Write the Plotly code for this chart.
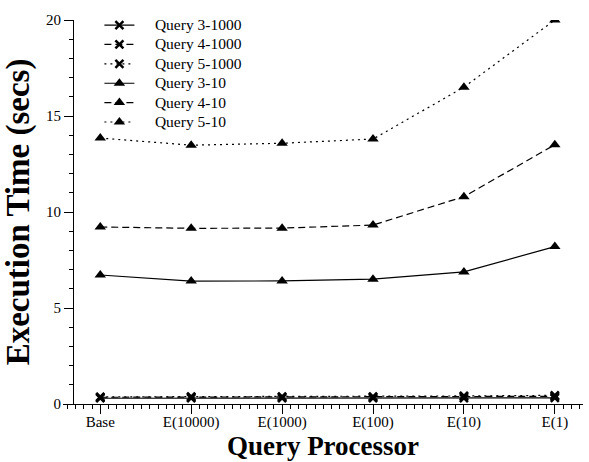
import plotly.graph_objects as go

categories = ["Base", "E(10000)", "E(1000)", "E(100)", "E(10)", "E(1)"]
q3_1000 = [0.30, 0.30, 0.30, 0.30, 0.30, 0.32]
q4_1000 = [0.35, 0.36, 0.36, 0.36, 0.38, 0.40]
q5_1000 = [0.37, 0.38, 0.38, 0.38, 0.42, 0.45]
q3_10 = [6.72, 6.40, 6.41, 6.50, 6.88, 8.20]
q4_10 = [9.22, 9.15, 9.16, 9.32, 10.80, 13.50]
q5_10 = [13.85, 13.48, 13.58, 13.80, 16.50, 20.0]
y_ticks = [0, 5, 10, 15, 20]

xs = list(range(len(categories)))
FONT = "Liberation Serif, Times New Roman, serif"

series = [
    ("Query 3-1000", q3_1000, "solid", "x-thin"),
    ("Query 4-1000", q4_1000, "7px,4px", "x-thin"),
    ("Query 5-1000", q5_1000, "2px,4px", "x-thin"),
    ("Query 3-10", q3_10, "solid", "triangle-up"),
    ("Query 4-10", q4_10, "7px,4px", "triangle-up"),
    ("Query 5-10", q5_10, "2px,4px", "triangle-up"),
]

fig = go.Figure()
for name, vals, dash, sym in series:
    if sym == "x-thin":
        marker = dict(symbol="x-thin", size=8, color="black",
                      line=dict(color="black", width=2.5))
    else:
        marker = dict(symbol="triangle-up", size=10, color="black",
                      line=dict(color="black", width=0))
    fig.add_trace(go.Scatter(
        x=xs, y=vals,
        name='<span style="font-size:15.5px">' + "\u00a0" * 4 + name + '</span>',
        mode="lines+markers",
        line=dict(color="black", width=1.2, dash=dash),
        marker=marker,
    ))

fig.update_layout(
    width=589, height=462,
    margin=dict(l=63, r=6, t=20, b=58),
    paper_bgcolor="white", plot_bgcolor="white",
    font=dict(family=FONT, color="black", size=15),
    showlegend=True,
    legend=dict(x=0.07, y=1.025, xanchor="left", yanchor="top",
                bgcolor="rgba(0,0,0,0)", font=dict(size=12.6, family=FONT),
                tracegroupgap=0),
    xaxis=dict(
        range=[-0.41, 5.31], tickmode="array", tickvals=xs, ticktext=categories,
        automargin=False,
        showgrid=False, zeroline=False, showline=True, linecolor="black", linewidth=1,
        ticks="outside", ticklen=9, tickcolor="black", tickwidth=1,
        ticklabelstandoff=-5,
        tickfont=dict(size=15, family=FONT),
        minor=dict(ticks="outside", ticklen=4, dtick=1/11, tick0=0, tickcolor="black", tickwidth=1, showgrid=False),
        title=dict(text="<b>Query Processor</b>", font=dict(size=27, family=FONT), standoff=0),
    ),
    yaxis=dict(
        range=[0, 20], tickmode="array", tickvals=y_ticks,
        anchor="free", position=0.0192, automargin=False,
        showgrid=False, zeroline=False, showline=True, linecolor="black", linewidth=1,
        ticks="outside", ticklen=9, tickcolor="black", tickwidth=1,
        tickfont=dict(size=15, family=FONT),
        minor=dict(ticks="outside", ticklen=4, dtick=1, tickcolor="black", tickwidth=1, showgrid=False),
        title=dict(text="<b>Execution Time (secs)</b>", font=dict(size=33, family=FONT), standoff=6),
    ),
)

fig.write_html("out.html", config={"displayModeBar": False},
               post_script="document.body.style.margin='0';document.body.style.padding='0';")
